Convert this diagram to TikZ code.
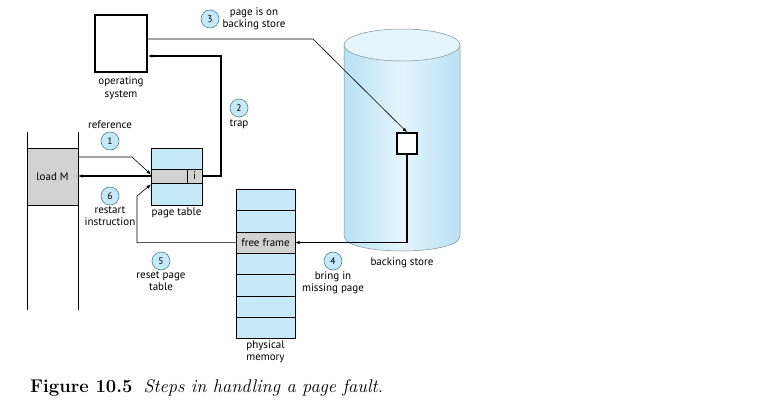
\documentclass[tikz,border=0pt]{standalone}
\usepackage{fontspec}
\usepackage{tikz}
\usetikzlibrary{positioning,arrows.meta}
\newfontfamily\lblfont{PT Sans}
\definecolor{pgblue}{HTML}{C6E9F8}
\definecolor{pggray}{HTML}{D2D2D2}
\definecolor{stepedge}{HTML}{4A7FA3}
\definecolor{diskedge}{HTML}{7E8F9A}
\definecolor{diskside}{HTML}{B9E1F4}
\definecolor{diskmid}{HTML}{E4F5FC}

\begin{document}
\begin{tikzpicture}[x=1pt, y=-1pt, font=\lblfont\fontsize{11}{12.5}\selectfont,
		box/.style={draw, line width=0.6pt, inner sep=0pt, outer sep=0pt, minimum width=#1},
		stepnum/.style={circle, draw=stepedge, fill=pgblue, line width=0.6pt, minimum size=18pt, inner sep=0pt, font=\lblfont\fontsize{9.5}{10}\selectfont},
		lbl/.style={align=center, inner sep=1pt},
		tip/.style={-{Latex[length=4.5pt, width=3.5pt]}}]
		\useasboundingbox (0,0) rectangle (757,407);
		% backing store
		\shade[left color=diskside, right color=diskside, middle color=diskmid] (344,45) -- (344,236) .. controls (344,256) and (460,256) .. (460,236) -- (460,45) -- cycle;
		\draw[diskedge, line width=0.5pt] (344,45) -- (344,236) .. controls (344,256) and (460,256) .. (460,236) -- (460,45);
		\draw[diskedge, line width=0.5pt, fill=diskmid] (402,45) ellipse [x radius=58, y radius=16];
		\node[lbl] (storelbl) at (402,263) {backing store};
		\node[draw, line width=1.5pt, fill=white, minimum width=20pt, minimum height=21pt, inner sep=0pt] (dpage) at (407,143.5) {};
		% operating system
		\node[draw, line width=1.6pt, minimum width=52pt, minimum height=57pt] (os) at (121,43.5) {};
		\node[lbl, below=3pt of os] {operating\\system};
		% process with load M
		\draw[line width=0.6pt] (27,132) -- (27,310) (78,132) -- (78,310);
		\node[box=51pt, fill=pggray, minimum height=57pt] (loadm) at (52.5,176.5) {load M};
		% page table
		\node[box=51pt, fill=pgblue, minimum height=21pt] (pttop) at (176.5,158.5) {};
		\node[box=36pt, fill=pggray, minimum height=14pt, anchor=north west] (ptrow) at (pttop.south west) {};
		\node[box=15pt, fill=pggray, minimum height=14pt, right=0pt of ptrow] (pti) {i};
		\node[box=51pt, fill=pgblue, minimum height=22pt, anchor=north west] (ptbot) at (ptrow.south west) {};
		\node[lbl, below=2pt of ptbot] {page table};
		% physical memory
		\node[box=59pt, fill=pgblue, minimum height=21.3pt, anchor=north west] (m1) at (236,189.3) {};
		\foreach \i [remember=\i as \j (initially 1)] in {2,...,7}
			\node[box=59pt, fill=pgblue, minimum height=21.3pt, below=0pt of m\j] (m\i) {};
		\node[box=59pt, fill=pggray, minimum height=21.3pt] (frame) at (m3) {free frame};
		\node[lbl, below=1pt of m7] {physical\\memory};
		% steps
		\node[stepnum] (s1) at (110,141) {1};
		\node[lbl, above=2pt of s1] {reference};
		\node[stepnum] (s2) at (239,108) {2};
		\node[lbl, below=1pt of s2] {trap};
		\node[stepnum] (s3) at (210,19) {3};
		\node[lbl, right=2pt of s3] {page is on\\backing store};
		\node[stepnum] (s4) at (333,261) {4};
		\node[lbl, below=0pt of s4] {bring in\\missing page};
		\node[stepnum] (s5) at (161,261) {5};
		\node[lbl, below=0pt of s5] {reset page\\table};
		\node[stepnum] (s6) at (110,196) {6};
		\node[lbl, below=0pt of s6] {restart\\instruction};
		% connectors
		\draw[tip, line width=0.6pt] ([yshift=19.5pt]loadm.east) -- (132,157) -- ([yshift=1.5pt]ptrow.west);
		\draw[tip, line width=1.5pt] (ptrow.west) -- (ptrow.west -| loadm.east);
		\draw[tip, line width=1.5pt] (pti.east) -- ++(19,0) |- ([yshift=-12.5pt]os.east);
		\draw[tip, line width=0.6pt] ([yshift=4.5pt]os.east) -- (313,39) -- (dpage.north);
		\draw[tip, line width=1.5pt] (dpage.south) |- (frame.east);
		\draw[tip, line width=0.6pt] (frame.west) -| (137,196) -- ([yshift=-1.5pt]ptbot.north west);
		% caption
		\node[anchor=west, inner sep=0pt, font=\fontsize{18.4}{20}\selectfont] (caption) at (30,388) {\textbf{Figure 10.5}\hspace{0.6em}\textit{Steps in handling a page fault.}};
	\end{tikzpicture}
\end{document}
